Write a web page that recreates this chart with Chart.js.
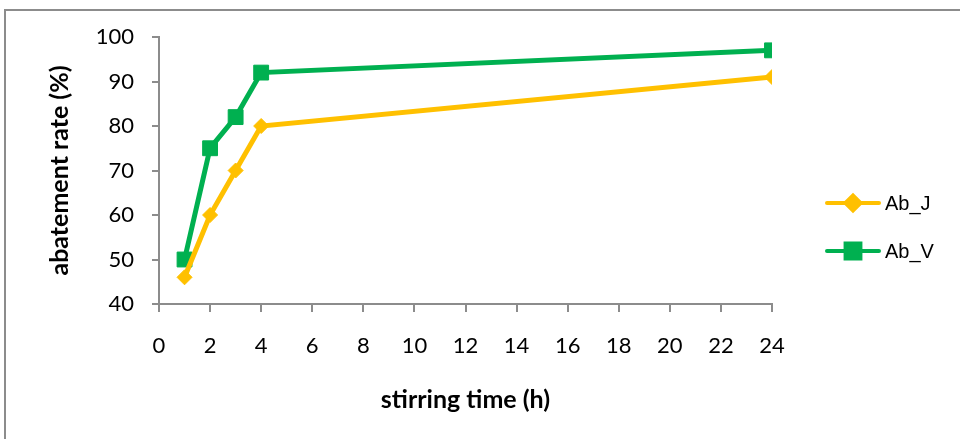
<!DOCTYPE html>
<html>
<head>
<meta charset="utf-8">
<script src="https://cdn.jsdelivr.net/npm/chart.js@4/dist/chart.umd.min.js"></script>
<style>
  html, body { margin: 0; padding: 0; background: #fff; overflow: hidden; }
  #wrap { position: relative; width: 960px; height: 439px; }
  #frame { position: absolute; left: 4px; top: 9px; width: 1000px; height: 500px;
           border-left: 2px solid #8c8c8c; border-top: 2px solid #8c8c8c; }
  canvas { position: absolute; left: 0; top: 0; }
</style>
</head>
<body>
<div id="wrap">
  <div id="frame"></div>
  <canvas id="chart" width="960" height="439"></canvas>
</div>
<script>
// stirring time (h)
const hours = [1, 2, 3, 4, 24];
// abatement rate (%)
const abJ = [46, 60, 70, 80, 91];
const abV = [50, 75, 82, 92, 97];
const seriesNames = ["Ab_J", "Ab_V"];

const xMin = 0, xMax = 24, xStep = 2;
const yMin = 40, yMax = 100, yStep = 10;

const orange = "#FFC000";
const green = "#00B050";
const axisGray = "#8c8c8c";

function toPoints(xs, ys) {
  return xs.map((x, i) => ({ x: x, y: ys[i] }));
}

// legend drawn by hand: line with marker in the middle, label to the right
const lineLegend = {
  id: "lineLegend",
  afterDraw(chart) {
    const ctx = chart.ctx;
    const rows = [203, 251];
    chart.data.datasets.forEach((ds, i) => {
      const y = rows[i];
      ctx.save();
      ctx.strokeStyle = ds.borderColor;
      ctx.lineWidth = 4;
      ctx.lineCap = "round";
      ctx.beginPath();
      ctx.moveTo(827, y);
      ctx.lineTo(879, y);
      ctx.stroke();
      ctx.fillStyle = ds.pointBackgroundColor;
      ctx.strokeStyle = ds.pointBorderColor;
      Chart.helpers.drawPoint(ctx, {
        pointStyle: ds.pointStyle,
        radius: ds.pointRadius,
        rotation: 0,
        borderWidth: ds.pointBorderWidth
      }, 853, y);
      ctx.fillStyle = "#000";
      ctx.font = "20px 'Liberation Sans'";
      ctx.textBaseline = "middle";
      ctx.textAlign = "left";
      ctx.fillText(ds.label, 885, y + 1);
      ctx.restore();
    });
  }
};

new Chart(document.getElementById("chart"), {
  type: "line",
  data: {
    datasets: [
      {
        label: seriesNames[0],
        data: toPoints(hours, abJ),
        borderColor: orange,
        backgroundColor: orange,
        borderWidth: 5,
        pointStyle: "rectRot",
        pointRadius: 7.5,
        pointBackgroundColor: orange,
        pointBorderColor: orange,
        pointBorderWidth: 1,
        tension: 0
      },
      {
        label: seriesNames[1],
        data: toPoints(hours, abV),
        borderColor: green,
        backgroundColor: green,
        borderWidth: 5,
        pointStyle: "rect",
        pointRadius: 10.5,
        pointBackgroundColor: green,
        pointBorderColor: green,
        pointBorderWidth: 1,
        tension: 0
      }
    ]
  },
  options: {
    responsive: false,
    animation: false,
    layout: { padding: { left: 0, top: 37, right: 188, bottom: 0 } },
    plugins: {
      legend: { display: false },
      tooltip: { enabled: false }
    },
    scales: {
      x: {
        type: "linear",
        min: xMin,
        max: xMax,
        afterFit(s) { s.height = 135; },
        ticks: {
          stepSize: xStep,
          color: "#000",
          font: { family: "Lato", size: 22 },
          padding: 21,
          maxRotation: 0
        },
        grid: { drawOnChartArea: false, drawTicks: true, tickLength: 8, color: axisGray, lineWidth: 2 },
        border: { color: axisGray, width: 2 },
        title: {
          display: true,
          text: "stirring time (h)",
          color: "#000",
          font: { family: "Lato", size: 25, weight: "bold" },
          padding: { top: 0, bottom: 24 }
        }
      },
      y: {
        min: yMin,
        max: yMax,
        afterFit(s) { s.width = 159; },
        ticks: {
          stepSize: yStep,
          color: "#000",
          font: { family: "Lato", size: 22 },
          padding: 18
        },
        grid: { drawOnChartArea: false, drawTicks: true, tickLength: 7, color: axisGray, lineWidth: 2 },
        border: { color: axisGray, width: 2 },
        title: {
          display: true,
          text: "abatement rate (%)",
          color: "#000",
          font: { family: "Lato", size: 25, weight: "bold" },
          padding: { top: 45, bottom: 0 }
        }
      }
    }
  },
  plugins: [lineLegend]
});
</script>
</body>
</html>
